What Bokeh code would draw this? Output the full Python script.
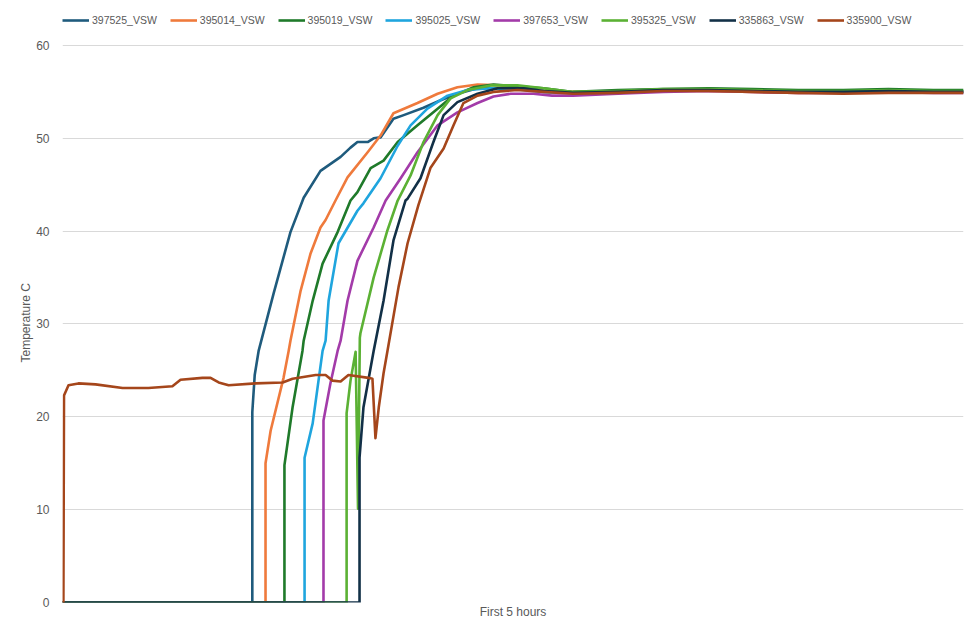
from bokeh.plotting import figure
from bokeh.models import Range1d, FixedTicker, Legend, LegendItem, Title
from bokeh.embed import file_html
from bokeh.resources import INLINE

# ---- data (time in minutes over the first 5 hours, temperature in C) ----
names = ["397525_VSW", "395014_VSW", "395019_VSW", "395025_VSW",
         "397653_VSW", "395325_VSW", "335863_VSW", "335900_VSW"]
colors = ["#1f5b7d", "#ef7a3c", "#1f7a2a", "#1fa5de",
          "#a33ba9", "#5bb134", "#123047", "#a5461b"]

plateau_t = [170, 185, 200, 215, 230, 245, 260, 275, 290, 300]

t_397525 = [0, 63.2, 63.2, 64.0, 65.3, 70.3, 75.9, 80.3, 85.9, 92.6, 95.9, 98.2, 101.6,
            103.6, 105.9, 110.2, 113.6, 120.2, 125.9, 131.5, 138.2, 145.9, 153.5, 160.2] + plateau_t
v_397525 = [0, 0, 20.5, 24.5, 27.1, 33.3, 39.9, 43.6, 46.5, 48.0, 49.0, 49.6, 49.6,
            50.0, 50.1, 52.1, 52.5, 53.3, 54.1, 54.8, 55.4, 55.4, 55.3, 55.0,
            54.9, 55.0, 55.1, 55.2, 55.1, 55.0, 55.0, 55.1, 55.0, 55.0]

t_395014 = [0, 67.6, 67.6, 69.3, 73.6, 75.3, 75.9, 79.3, 82.6, 85.9, 87.6, 90.9, 94.9, 95.9,
            101.6, 105.9, 110.2, 118.2, 124.9, 131.5, 138.2, 145.9, 153.5, 160.2] + plateau_t
v_395014 = [0, 0, 15.0, 18.5, 24.2, 27.1, 28.2, 33.6, 37.6, 40.4, 41.2, 43.3, 45.8, 46.2,
            48.5, 50.3, 52.7, 53.8, 54.8, 55.5, 55.8, 55.7, 55.3, 55.1,
            55.0, 55.0, 55.1, 55.1, 55.0, 54.9, 55.0, 55.0, 55.0, 55.0]

t_395019 = [0, 73.9, 73.9, 76.6, 79.9, 80.3, 83.3, 86.6, 91.6, 95.9, 98.2, 102.6, 106.9,
            111.6, 118.2, 124.9, 130.2, 136.9, 143.5, 151.5, 160.2] + plateau_t
v_395019 = [0, 0, 14.8, 21.0, 27.1, 28.2, 32.5, 36.5, 39.9, 43.3, 44.2, 46.8, 47.6,
            49.6, 51.4, 53.2, 54.6, 55.5, 55.8, 55.6, 55.4,
            55.0, 55.2, 55.3, 55.4, 55.3, 55.2, 55.2, 55.3, 55.2, 55.2]

t_395025 = [0, 80.6, 80.6, 83.3, 86.6, 87.6, 88.6, 91.9, 98.2, 100.2, 105.9, 111.6, 115.9,
            121.5, 128.2, 134.9, 142.5, 153.5, 160.2] + plateau_t
v_395025 = [0, 0, 15.6, 19.3, 27.1, 28.2, 32.5, 38.7, 42.2, 43.0, 45.7, 49.2, 51.4,
            53.2, 54.6, 55.2, 55.4, 55.2, 55.0,
            54.9, 55.0, 55.1, 55.2, 55.1, 55.0, 55.0, 55.1, 55.0, 55.0]

t_397653 = [0, 86.9, 86.9, 89.2, 91.6, 92.6, 94.9, 98.2, 103.6, 107.6, 112.6, 118.2, 124.9,
            131.5, 138.2, 143.5, 149.2, 156.8, 163.0] + plateau_t
v_397653 = [0, 0, 19.6, 23.6, 27.1, 28.2, 32.5, 36.8, 40.4, 43.3, 45.7, 48.5, 51.4,
            52.8, 53.8, 54.5, 54.8, 54.8, 54.6,
            54.6, 54.8, 55.0, 55.1, 55.0, 54.9, 54.9, 55.0, 54.9, 54.9]

t_395325 = [0, 94.6, 94.6, 95.9, 97.6, 98.4, 99.0, 99.2, 103.6, 108.2, 111.6, 115.9, 120.2,
            124.9, 129.2, 134.9, 142.5, 151.5, 160.2] + plateau_t
v_395325 = [0, 0, 20.4, 23.9, 27.0, 10.1, 28.5, 29.0, 35.0, 40.1, 43.3, 46.0, 49.6,
            52.5, 54.3, 55.2, 55.7, 55.7, 55.4,
            55.0, 55.1, 55.3, 55.3, 55.2, 55.1, 55.1, 55.2, 55.1, 55.1]

t_335863 = [0, 98.9, 98.9, 100.2, 103.6, 106.9, 110.2, 114.2, 114.9, 119.2, 123.5, 126.9,
            131.5, 138.2, 144.9, 153.5, 160.2] + plateau_t
v_335863 = [0, 0, 15.6, 21.0, 27.1, 32.5, 39.0, 43.3, 43.5, 45.7, 49.6, 52.5,
            53.9, 54.8, 55.4, 55.4, 55.1,
            54.9, 55.0, 55.2, 55.2, 55.1, 55.0, 55.0, 55.1, 55.0, 55.0]

t_335900 = [0, 0.3, 0.5, 2.0, 5.3, 11.0, 20.0, 28.6, 36.6, 39.3, 46.6, 49.3, 52.0, 55.3,
            64.3, 73.3, 76.6, 84.3, 87.6, 89.9, 92.6, 95.2, 101.9, 103.2, 104.2, 105.3,
            106.9, 108.2, 111.9, 114.9, 118.5, 122.5, 126.9, 130.2, 133.5, 138.2, 143.5,
            151.5, 160.2] + plateau_t
v_335900 = [0, 0, 22.3, 23.4, 23.6, 23.5, 23.1, 23.1, 23.3, 24.0, 24.2, 24.2, 23.7, 23.4,
            23.6, 23.7, 24.1, 24.5, 24.5, 23.9, 23.8, 24.5, 24.2, 24.1, 17.7, 21.0,
            24.7, 27.1, 34.0, 38.7, 42.8, 46.8, 48.9, 51.4, 53.8, 54.6, 55.0,
            55.2, 55.0,
            54.8, 54.9, 55.1, 55.1, 55.0, 54.9, 54.8, 54.9, 54.9, 54.9]

series_t = [t_397525, t_395014, t_395019, t_395025, t_397653, t_395325, t_335863, t_335900]
series_v = [v_397525, v_395014, v_395019, v_395025, v_397653, v_395325, v_335863, v_335900]
y_ticks = [0, 10, 20, 30, 40, 50, 60]

FONT = "Liberation Sans"
GRAY = "#595959"

# frame reaches up to the legend row; 0..60 occupy the lower 557 px
p = figure(width=977, height=638, output_backend="svg", toolbar_location=None,
           x_range=Range1d(0, 300), y_range=Range1d(0, 63.77),
           min_border_left=62, min_border_right=14, min_border_top=10, min_border_bottom=36)
p.outline_line_color = None
p.background_fill_color = "white"
p.border_fill_color = "white"

p.xgrid.grid_line_color = None
p.ygrid.grid_line_color = "#d9d9d9"
p.ygrid.grid_line_width = 1

p.xaxis.ticker = FixedTicker(ticks=[])
p.xaxis.axis_line_color = None
p.xaxis.major_tick_line_color = None
p.xaxis.minor_tick_line_color = None
p.xaxis.axis_label = "First 5 hours"
p.xaxis.axis_label_text_font = FONT
p.xaxis.axis_label_text_font_size = "12px"
p.xaxis.axis_label_text_font_style = "normal"
p.xaxis.axis_label_text_color = GRAY
p.xaxis.axis_label_standoff = 2

p.yaxis.ticker = FixedTicker(ticks=y_ticks)
p.yaxis.axis_line_color = None
p.yaxis.major_tick_line_color = None
p.yaxis.minor_tick_line_color = None
p.yaxis.major_tick_out = 0
p.yaxis.major_tick_in = 0
p.yaxis.major_label_standoff = 13
p.yaxis.major_label_text_font = FONT
p.yaxis.major_label_text_font_size = "12px"
p.yaxis.major_label_text_color = GRAY

ytitle = Title(text="Temperature C", align="left", offset=240, standoff=2,
               text_font=FONT, text_font_size="12px", text_font_style="normal",
               text_color=GRAY)
p.add_layout(ytitle, "left")

items = []
for name, col, ts, vs in zip(names, colors, series_t, series_v):
    r = p.line(ts, vs, line_color=col, line_width=2.6, line_join="round")
    items.append(LegendItem(label=name, renderers=[r]))

legend = Legend(items=items, orientation="horizontal", location="top_left",
                glyph_width=27, glyph_height=20, label_standoff=3, spacing=13,
                padding=3, margin=0, border_line_color=None, background_fill_alpha=0,
                label_text_font=FONT, label_text_font_size="10.5px",
                label_text_color=GRAY, label_height=20)
p.add_layout(legend, "center")

open("out.html", "w").write(file_html(p, INLINE))
